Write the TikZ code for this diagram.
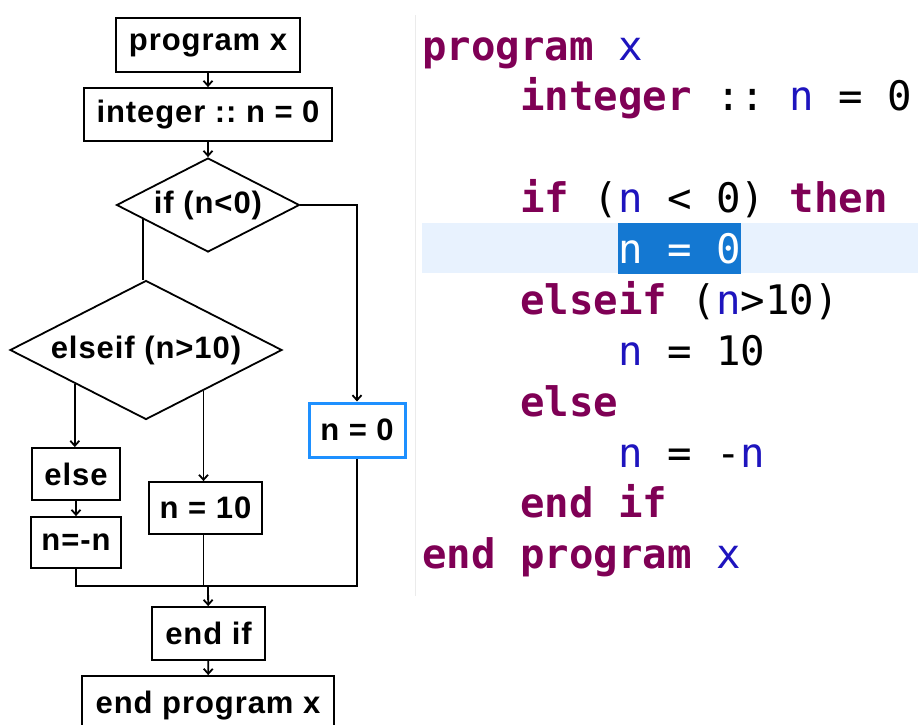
\documentclass[tikz,border=0pt]{standalone}
\usepackage{fontspec}
\usepackage{xcolor}
\usetikzlibrary{shapes.geometric, calc, arrows.meta}
\newfontfamily\flowfont[LetterSpace=3]{Liberation Sans}
\newfontfamily\codefont{DejaVu Sans Mono}
\definecolor{kwcol}{RGB}{127,0,85}
\definecolor{varcol}{RGB}{30,20,190}
\definecolor{selbg}{RGB}{20,120,210}
\definecolor{linebg}{RGB}{232,242,254}
\definecolor{nowblue}{RGB}{30,144,255}
\newcommand\codekw[1]{\textcolor{kwcol}{\bfseries #1}}
\newcommand\codevar[1]{\textcolor{varcol}{#1}}

\begin{document}
\begin{tikzpicture}[x=1pt, y=-1pt, >={Straight Barb[length=5pt, width=9pt]},
  box/.style={draw, line width=1.8pt, inner sep=0pt, font=\flowfont\bfseries\fontsize{31}{31}\selectfont\frenchspacing},
  decision/.style={box, diamond, shape aspect=1.95},
  flow/.style={line width=1.8pt},
  codeline/.style={anchor=base west, inner sep=0pt, font=\codefont\fontsize{40.7}{40.7}\selectfont\frenchspacing}]
\useasboundingbox (0,0) rectangle (918,724);

\fill[linebg] (422,223) rectangle (918,273);
\fill[selbg] (618,223) rectangle (741,274);
\draw[black!8] (415,15) -- (415,596);

\node[codeline] (c0) at (422,60) {\codekw{program} \codevar{x}};
\node[codeline] (c1) at (520,110) {\codekw{integer} :: \codevar{n} = 0};
\node[codeline] (c3) at (520,212) {\codekw{if} (\codevar{n} < 0) \codekw{then}};
\node[codeline, text=white] (c4) at (618,263) {n = 0};
\node[codeline] (c5) at (520,314) {\codekw{elseif} (\codevar{n}>10)};
\node[codeline] (c6) at (618,365) {\codevar{n} = 10};
\node[codeline] (c7) at (520,416) {\codekw{else}};
\node[codeline] (c8) at (618,467) {\codevar{n} = -\codevar{n}};
\node[codeline] (c9) at (520,517) {\codekw{end if}};
\node[codeline] (c10) at (422,568) {\codekw{end program} \codevar{x}};

\node[box, minimum width=184, minimum height=54] (prog) at (208,45) {program x};
\node[box, minimum width=248, minimum height=53] (decl) at (208,114.5) {integer :: n = 0};
\node[decision, minimum width=183, minimum height=94] (ifd) at (208,205) {if (n<0)};
\node[decision, minimum width=272, minimum height=139] (elif) at (146,350) {elseif (n>10)};
\node[box, draw=nowblue, line width=3pt, minimum width=96, minimum height=54] (nzero) at (357,430) {n = 0};
\node[box, minimum width=88, minimum height=52] (els) at (76,474) {else};
\node[box, minimum width=90, minimum height=51] (nneg) at (76,542.5) {n=-n};
\node[box, minimum width=113, minimum height=52] (nten) at (205.5,508) {n = 10};
\node[box, minimum width=113, minimum height=53] (endif) at (208.5,633.5) {end if};
\node[box, minimum width=252, minimum height=60] (endprog) at (208,706) {end program x};

\coordinate (ifl) at ($(ifd.west)!0.3!(ifd.south)$);
\coordinate (elifl) at ($(elif.west)!0.48!(elif.south)$);
\coordinate (elifr) at ($(elif.east)!0.58!(elif.south)$);
\coordinate (join) at (208,586);

\draw[flow,->] (prog) -- (decl);
\draw[flow,->] (decl) -- (ifd);
\draw[flow,->] (ifd.east) -| (nzero.north);
\draw[flow] (ifl) -- (ifl |- elif.north);
\draw[flow,->] (elifl) -- (elifl |- els.north);
\draw[flow,->] (elifr) -- (elifr |- nten.north);
\draw[flow,->] (els) -- (nneg);
\draw[flow] (nneg.south) |- (join);
\draw[flow] (nzero.south) |- (join);
\draw[flow] (elifr |- nten.south) -- (elifr |- join);
\draw[flow,->] (join) -- (endif);
\draw[flow,->] (endif) -- (endprog);
\end{tikzpicture}
\end{document}
